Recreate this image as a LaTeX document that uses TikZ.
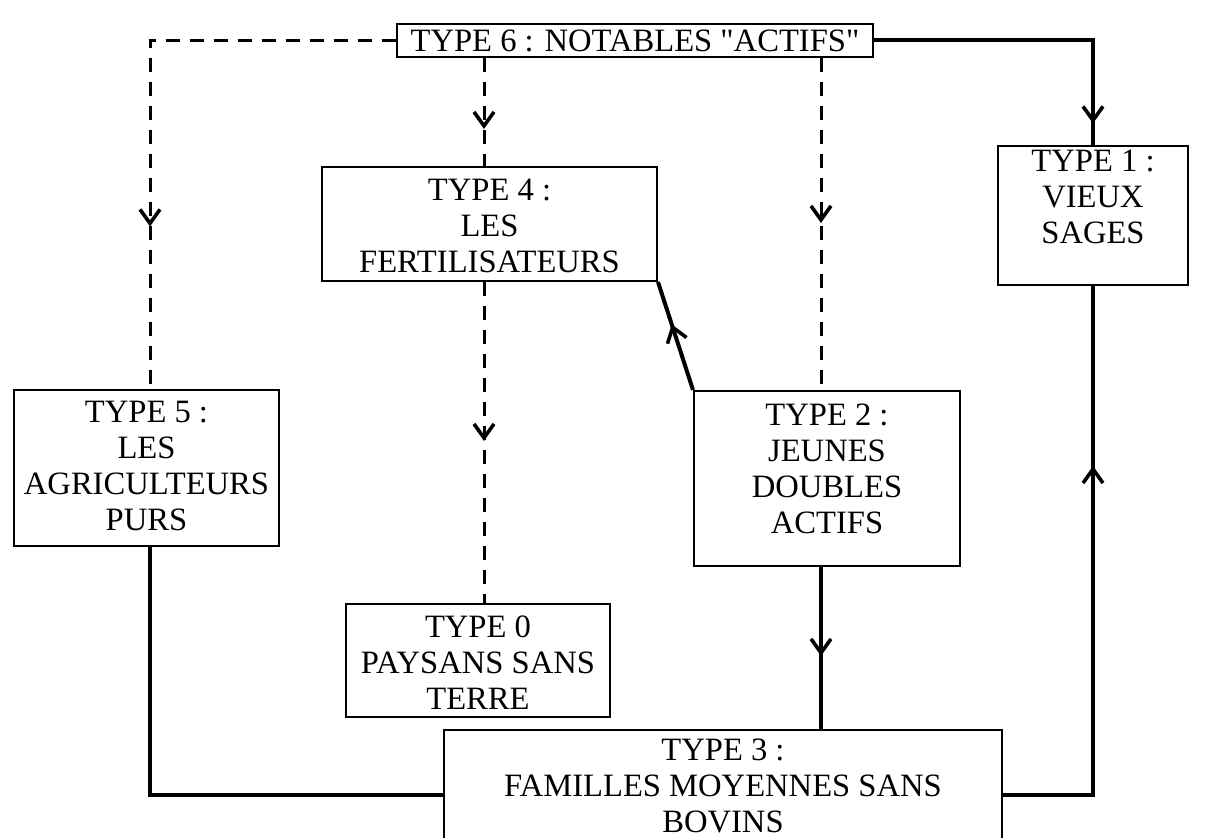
\documentclass[tikz,border=0pt]{standalone}
\usepackage{fontspec}
\setmainfont{Liberation Serif}[Ligatures=TeXOff]
\usetikzlibrary{arrows.meta,decorations.markings}
\begin{document}
\begin{tikzpicture}[x=0.5pt,y=-0.5pt,
  box/.style={draw, line width=1pt, inner sep=0pt},
  lbl/.style={align=center, font=\fontsize{16.3}{18}\selectfont, inner sep=0pt},
  dashline/.style={line width=1.5pt, dash pattern=on 7pt off 5pt},
  solidline/.style={line width=2pt},
  midarrow/.style={postaction={decorate}, decoration={markings, mark=at position #1 with {\arrow{Straight Barb[length=7pt,width=10pt,line width=1.8pt]}}}}
]
\path[use as bounding box] (0,0) rectangle (1207,838);
\clip (0,0) rectangle (1207,838);

% boxes
\node[box, minimum width=238pt, minimum height=16.5pt] (t6) at (635,40.5) {};
\node[lbl] (t6l) at (635,40.5) {TYPE 6 : NOTABLES "ACTIFS"};

\node[box, minimum width=167.5pt, minimum height=57pt] (t4) at (489.5,224) {};
\node[lbl] (t4l) at (489.5,226) {TYPE 4 :\\LES\\FERTILISATEURS};

\node[box, minimum width=95pt, minimum height=69.5pt] (t1) at (1093,215.5) {};
\node[lbl] (t1l) at (1093,197) {TYPE 1 :\\VIEUX\\SAGES};

\node[box, minimum width=132.5pt, minimum height=78pt] (t5) at (146.5,468) {};
\node[lbl] (t5l) at (146.5,466) {TYPE 5 :\\LES\\AGRICULTEURS\\PURS};

\node[box, minimum width=133pt, minimum height=87.5pt] (t2) at (827,478.5) {};
\node[lbl] (t2l) at (827,469) {TYPE 2 :\\JEUNES\\DOUBLES\\ACTIFS};

\node[box, minimum width=132pt, minimum height=56.5pt] (t0) at (478,660.5) {};
\node[lbl] (t0l) at (478,663) {TYPE 0\\PAYSANS SANS\\TERRE};

\node[box, minimum width=279pt, minimum height=65pt] (t3) at (723,795) {};
\node[lbl] (t3l) at (723,786) {TYPE 3 :\\FAMILLES MOYENNES SANS\\BOVINS};

% helper x positions
\coordinate (xa) at (484,0);
\coordinate (xb) at (821,0);
\coordinate (xl) at (150,0);
\coordinate (xr) at (1093,0);

% dashed connectors
\draw[dashline, midarrow=216pt] (t6.west) -- (t6.west -| xl) -- (t5.north -| xl);
\draw[dashline, midarrow=35.5pt] (t6.south -| xa) -- (t4.north -| xa);
\draw[dashline, midarrow=82.5pt] (t6.south -| xb) -- (t2.north -| xb);
\draw[dashline, midarrow=79.5pt] (t4.south -| xa) -- (t0.north -| xa);

% solid connectors
\draw[solidline, midarrow=151pt] (t6.east) -- (t6.east -| xr) -- (t1.north -| xr);
\draw[solidline, midarrow=34.5pt] (t2.north west) -- (t4.south east);
\draw[solidline, midarrow=44.5pt] (t2.south -| xb) -- (t3.north -| xb);
\draw[solidline] (t5.south -| xl) -- (t3.west -| xl) -- (t3.west);
\draw[solidline, midarrow=209.5pt] (t3.east) -- (t3.east -| xr) -- (t1.south -| xr);
\end{tikzpicture}
\end{document}
